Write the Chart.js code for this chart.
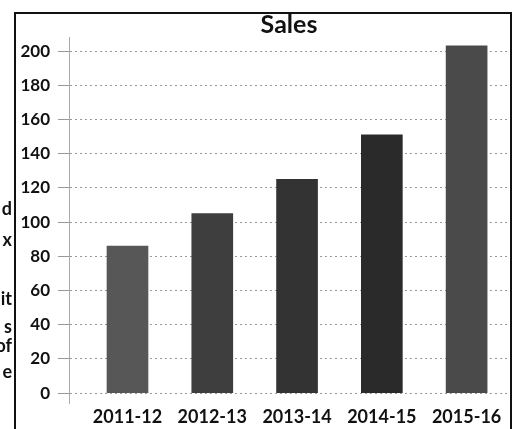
<!DOCTYPE html>
<html>
<head>
<meta charset="utf-8">
<script src="https://cdn.jsdelivr.net/npm/chart.js@4"></script>
<style>
  html, body { margin: 0; padding: 0; background: #fff; }
  body { width: 514px; height: 429px; position: relative; overflow: hidden; }
  #wrap { position: absolute; left: 0; top: 0; width: 514px; height: 429px; }
  #frame { position: absolute; left: 14px; top: 12px; width: 494px; height: 430px;
           border-left: 2px solid #111; border-top: 2px solid #111; border-right: 2px solid #111; pointer-events: none; }
  .frag { position: absolute; right: 502px; font: bold 18px Lato, sans-serif; color: #111; line-height: 1; }
</style>
</head>
<body>
<div id="wrap"><canvas id="c" width="514" height="429"></canvas></div>
<div id="frame"></div>
<span class="frag" style="top:199px">d</span>
<span class="frag" style="top:230px">x</span>
<span class="frag" style="top:289px">it</span>
<span class="frag" style="top:317px">s</span>
<span class="frag" style="top:336px">of</span>
<span class="frag" style="top:362px">e</span>
<script>
const categories = ['2011-12', '2012-13', '2013-14', '2014-15', '2015-16'];
const sales = [86, 105, 125, 151, 203];
const yTicks = [0, 20, 40, 60, 80, 100, 120, 140, 160, 180, 200];
const barColors = ['#575757', '#3e3e3e', '#333333', '#2a2a2a', '#4a4a4a'];

new Chart(document.getElementById('c'), {
  type: 'bar',
  data: {
    datasets: [{
      label: 'Sales',
      data: categories.map((c, i) => ({ x: i, y: sales[i] })),
      backgroundColor: barColors,
      borderWidth: 0,
      barThickness: 41
    }]
  },
  options: {
    responsive: false,
    animation: false,
    layout: { padding: { left: 20, right: 5, top: 12, bottom: 0 } },
    plugins: {
      legend: { display: false },
      tooltip: { enabled: false },
      title: {
        display: true,
        text: 'Sales',
        fullSize: false,
        color: '#111',
        font: { family: 'Lato', weight: 'bold', size: 25, lineHeight: 1 },
        padding: 0
      }
    },
    scales: {
      x: {
        type: 'linear',
        offset: false,
        min: -0.69,
        max: 4.5,
        afterBuildTicks: s => { s.ticks = categories.map((c, i) => ({ value: i })); },
        afterFit: s => { s.height = 26; },
        grid: { display: false, drawTicks: false },
        border: { display: false },
        ticks: {
          callback: v => categories[v] ?? '',
          color: '#111',
          padding: 3,
          maxRotation: 0,
          autoSkip: false,
          font: { family: 'Lato', weight: 'bold', size: 18 }
        }
      },
      y: {
        min: -5.8,
        max: 208.2,
        afterBuildTicks: s => { s.ticks = yTicks.map(v => ({ value: v })); },
        afterFit: s => { s.width = 49; },
        grid: { color: '#999', lineWidth: 1, tickLength: 11, tickColor: '#999' },
        border: { display: true, color: '#aaa', dash: [2, 3] },
        ticks: {
          color: '#111',
          padding: 8,
          font: { family: 'Lato', weight: 'bold', size: 17 }
        }
      }
    }
  },
  plugins: [{
    id: 'dashGrid',
    beforeDraw(chart) {
      const g = chart.options.scales.y.grid;
      g.borderDash = [3, 5];
    }
  }]
});
</script>
</body>
</html>
